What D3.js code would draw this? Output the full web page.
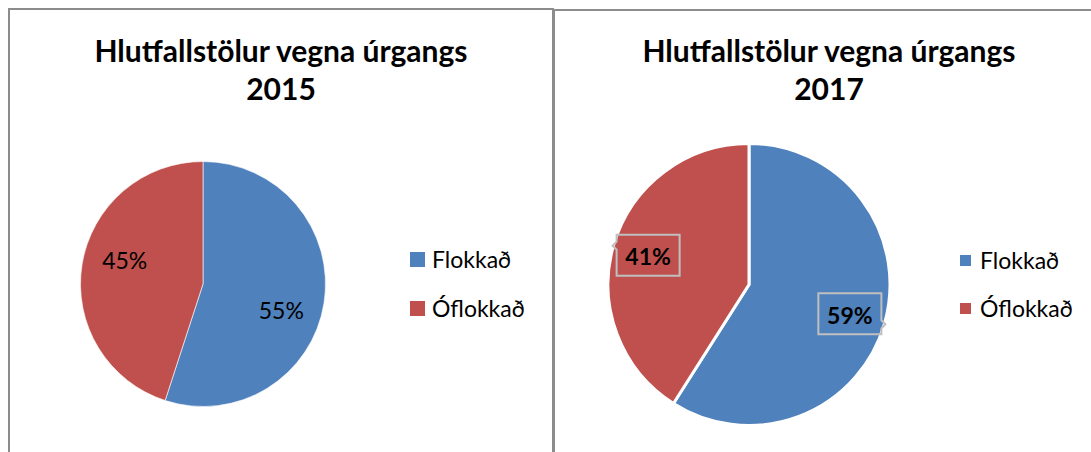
<!DOCTYPE html>
<html>
<head>
  <meta charset="utf-8">
  <title>Hlutfallstölur vegna úrgangs</title>
  <script src="https://d3js.org/d3.v7.min.js"></script>
  <style>
    body {
      margin: 0;
      background: #fff;
      font-family: Lato, "Open Sans", sans-serif;
    }
    .panel-border {
      fill: #fff;
      stroke: #8c8c8c;
      stroke-width: 2px;
    }
    .title {
      font-size: 30px;
      font-weight: bold;
      fill: #000;
      text-anchor: middle;
    }
    .legend-text {
      font-size: 23px;
      fill: #000;
    }
    .pct {
      font-size: 23px;
      fill: #000;
      text-anchor: middle;
      dominant-baseline: central;
    }
    .callout {
      fill: none;
      stroke: #bfbfbf;
      stroke-width: 2px;
    }
  </style>
</head>
<body>
  <div id="chart"></div>

  <script>
    // data
    const categories = ["Flokkað", "Óflokkað"];
    const years = ["2015", "2017"];
    const values2015 = [55, 45];
    const values2017 = [59, 41];
    const titleText = "Hlutfallstölur vegna úrgangs";

    const colors = d3.scaleOrdinal().domain(categories).range(["#4f81bd", "#c0504d"]);

    const width = 1091, height = 452;

    const svg = d3.select("#chart")
      .append("svg")
      .attr("width", width)
      .attr("height", height);

    // panel layouts (one per year)
    const panels = [
      {
        year: years[0], values: values2015,
        box: { x: 9, y: 9, w: 544, h: 460 },
        titleX: 281, cx: 203, cy: 284, r: 122.5,
        labelR: 0.67, labelShift: 8.5, labelBold: false, gap: 1,
        legend: { x: 410, y: 252, sq: 15, textX: 432, step: 49 }
      },
      {
        year: years[1], values: values2017,
        box: { x: 554, y: 10, w: 560, h: 460 },
        titleX: 829, cx: 749, cy: 284.5, r: 141,
        labelR: 0.745, labelShift: 0, labelBold: true, gap: 3,
        legend: { x: 960, y: 255, sq: 11, textX: 980, step: 48 }
      }
    ];

    const pie = d3.pie().sort(null).value(d => d.value);

    panels.forEach(p => {
      const g = svg.append("g");

      // chart border
      g.append("rect")
        .attr("class", "panel-border")
        .attr("x", p.box.x)
        .attr("y", p.box.y)
        .attr("width", p.box.w)
        .attr("height", p.box.h);

      // title, two lines
      g.append("text")
        .attr("class", "title")
        .attr("x", p.titleX)
        .attr("y", 62)
        .text(titleText);
      g.append("text")
        .attr("class", "title")
        .attr("x", p.titleX)
        .attr("y", 100)
        .text(p.year);

      const data = categories.map((c, i) => ({ cat: c, value: p.values[i] }));
      const arcs = pie(data);

      const arc = d3.arc().innerRadius(0).outerRadius(p.r);

      // label position: mid angle of the slice (rotated a little, like the best-fit placement)
      const labelPos = d => {
        const a = (d.startAngle + d.endAngle) / 2 + p.labelShift * Math.PI / 180;
        const rr = p.r * p.labelR;
        return [Math.sin(a) * rr, -Math.cos(a) * rr];
      };

      const pieG = g.append("g")
        .attr("transform", `translate(${p.cx},${p.cy})`);

      pieG.selectAll("path.slice")
        .data(arcs)
        .enter()
        .append("path")
        .attr("class", "slice")
        .attr("d", arc)
        .attr("fill", d => colors(d.data.cat))
        .attr("stroke", "#fff")
        .attr("stroke-opacity", p.gap > 1 ? 1 : 0.6)
        .attr("stroke-width", p.gap);

      const total = d3.sum(p.values);

      // percentage labels
      const labels = pieG.selectAll("g.lbl")
        .data(arcs)
        .enter()
        .append("g")
        .attr("class", "lbl")
        .attr("transform", d => `translate(${labelPos(d)})`);

      if (p.labelBold) {
        // callout boxes with a small pointer towards the slice edge
        const bw = 63, bh = 41, n = 4;
        labels.append("path")
          .attr("class", "callout")
          .attr("d", d => {
            const mid = (d.startAngle + d.endAngle) / 2;
            const left = Math.sin(mid) < 0;
            const x0 = -bw / 2, x1 = bw / 2, y0 = -bh / 2, y1 = bh / 2;
            if (left) {
              const py = y0 + 11;
              return `M${x0},${y0}H${x1}V${y1}H${x0}V${py + n}L${x0 - n},${py}L${x0},${py - n}Z`;
            }
            const py = y1 - 10;
            return `M${x0},${y0}H${x1}V${py - n}L${x1 + n},${py}L${x1},${py + n}V${y1}H${x0}Z`;
          });
      }

      labels.append("text")
        .attr("class", "pct")
        .style("font-weight", p.labelBold ? "bold" : "normal")
        .attr("dy", 1)
        .text(d => Math.round(d.data.value / total * 100) + "%");

      // legend
      const leg = g.selectAll("g.legend")
        .data(categories)
        .enter()
        .append("g")
        .attr("class", "legend")
        .attr("transform", (d, i) => `translate(0,${i * p.legend.step})`);

      leg.append("rect")
        .attr("x", p.legend.x)
        .attr("y", p.legend.y)
        .attr("width", p.legend.sq)
        .attr("height", p.legend.sq)
        .attr("fill", d => colors(d));

      leg.append("text")
        .attr("class", "legend-text")
        .attr("x", p.legend.textX)
        .attr("y", p.legend.y + p.legend.sq / 2 + 8)
        .text(d => d);
    });
  </script>
</body>
</html>
